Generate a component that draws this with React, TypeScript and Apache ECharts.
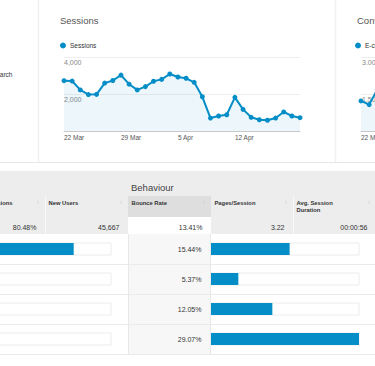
import React, { useEffect, useRef } from 'react';
import * as echarts from 'echarts';

const dates = [
  '22 Mar', '23 Mar', '24 Mar', '25 Mar', '26 Mar', '27 Mar', '28 Mar', '29 Mar', '30 Mar', '31 Mar',
  '1 Apr', '2 Apr', '3 Apr', '4 Apr', '5 Apr', '6 Apr', '7 Apr', '8 Apr', '9 Apr', '10 Apr',
  '11 Apr', '12 Apr', '13 Apr', '14 Apr', '15 Apr', '16 Apr', '17 Apr', '18 Apr', '19 Apr', '20 Apr',
];
const sessions = [
  2720, 2700, 2220, 1970, 1980, 2590, 2730, 3020, 2530, 2220,
  2400, 2690, 2790, 3080, 2920, 2850, 2630, 1850, 700, 810,
  880, 1820, 1170, 740, 610, 580, 700, 1030, 810, 720,
];
// only the first few points are visible at the right edge
const conversionRate = [1.22, 1.07, 1.68, 1.95];

const channelRows = ['Organic Search', 'Direct', 'Referral', 'Social'];
const headerLabels = ['% New Sessions', 'New Users', 'Bounce Rate', 'Pages/Session', 'Avg. Session\nDuration'];
const totals = ['80.48%', '45,667', '13.41%', '3.22', '00:00:56'];
const bounceRates = [15.44, 5.37, 12.05, 29.07];
const acquisitionShare = [74.8, 15.1, 6.3, 3.8];

const BLUE = '#058dc7';
const FONT = 'Arial, "Liberation Sans", sans-serif';

function buildOption() {
  const colLeft = [-38, 45, 128, 211, 293];
  const colRight = [45, 128, 211, 293, 376];
  const graphic: any[] = [];
  graphic.push(
    { type: 'rect', z: -20, shape: { x: 0, y: 171, width: 375, height: 63 }, style: { fill: '#ededed' } },
    { type: 'rect', z: -19, shape: { x: 128, y: 196, width: 83, height: 21 }, style: { fill: '#dedede' } },
    { type: 'rect', z: -19, shape: { x: 128, y: 217, width: 83, height: 17 }, style: { fill: '#ffffff' } },
    { type: 'rect', z: -19, shape: { x: 128, y: 234, width: 83, height: 120 }, style: { fill: '#f7f7f7' } },
    { type: 'line', z: -18, shape: { x1: 0, y1: 162.5, x2: 375, y2: 162.5 }, style: { stroke: '#e6e6e6', lineWidth: 1 } },
    { type: 'line', z: -18, shape: { x1: 38.5, y1: 0, x2: 38.5, y2: 162 }, style: { stroke: '#f0f0f0', lineWidth: 1.5 } },
    { type: 'line', z: -18, shape: { x1: 335.5, y1: 0, x2: 335.5, y2: 162 }, style: { stroke: '#f0f0f0', lineWidth: 1.5 } },
  );
  [264.5, 294.5, 324.5, 354.5].forEach((y) =>
    graphic.push({ type: 'line', z: -17, shape: { x1: 0, y1: y, x2: 375, y2: y }, style: { stroke: '#ebebeb', lineWidth: 1 } })
  );
  [128.5, 210.5].forEach((x) =>
    graphic.push({ type: 'line', z: -17, shape: { x1: x, y1: 234, x2: x, y2: 354 }, style: { stroke: '#e8e8e8', lineWidth: 1 } })
  );
  [45.5, 293.5].forEach((x) =>
    graphic.push({ type: 'line', z: -17, shape: { x1: x, y1: 196, x2: x, y2: 234 }, style: { stroke: '#f8f8f8', lineWidth: 1 } })
  );
  graphic.push(
    { type: 'text', z: 10, x: 12.5, y: 74, style: { text: 'Organic Search', fill: '#333', font: `6.5px ${FONT}`, align: 'right', verticalAlign: 'middle' } },
    { type: 'text', z: 10, x: 131, y: 187, style: { text: 'Behaviour', fill: '#444', font: `9.5px ${FONT}`, align: 'left', verticalAlign: 'middle' } },
  );
  headerLabels.forEach((h, i) => {
    const isFirst = i === 0;
    graphic.push({
      type: 'text', z: 10,
      x: isFirst ? 12.5 : colLeft[i] + 3.5,
      y: 199,
      style: {
        text: h, fill: '#333', font: `bold 5.8px ${FONT}`,
        align: isFirst ? 'right' : 'left', verticalAlign: 'top', lineHeight: 7,
      },
    });
    graphic.push({
      type: 'text', z: 10, x: colRight[i] - 7, y: 202,
      style: { text: '↕', fill: '#c4c4c4', font: `5px ${FONT}`, align: 'center', verticalAlign: 'middle' },
    });
    graphic.push({
      type: 'text', z: 10, x: colRight[i] - 8.5, y: 227,
      style: { text: totals[i], fill: '#333', font: `7px ${FONT}`, align: 'right', verticalAlign: 'middle' },
    });
  });

  const timeAxis = (gridIndex: number) => ({
    gridIndex, type: 'category', data: dates, boundaryGap: false,
    axisLine: { lineStyle: { color: '#c8c8c8' } }, axisTick: { show: false },
    axisLabel: { interval: (i: number) => i % 7 === 0 && i < 28, align: 'left', margin: 3, fontSize: 6.5, color: '#555' },
  });

  const valueLabel = (fmt: (v: number) => string) => ({
    inside: false, margin: 0, align: 'left', verticalAlign: 'top', padding: [2, 0, 0, 0],
    showMinLabel: false, showMaxLabel: true, hideOverlap: false,
    fontSize: 7, color: () => '#888888', textBorderWidth: 0, opacity: 1,
    formatter: (v: number) => fmt(v),
  });

  const option: any = {
    animation: false,
    textStyle: { fontFamily: FONT },
    title: [
      { text: 'Sessions', left: 60, top: 15, padding: 0, textStyle: { fontSize: 9.5, fontWeight: 'normal', color: '#555' } },
      { text: 'Conversions', left: 357, top: 15, padding: 0, textStyle: { fontSize: 9.5, fontWeight: 'normal', color: '#555' } },
    ],
    legend: [
      {
        data: ['Sessions'], left: 60, top: 42, padding: 0, icon: 'circle', itemWidth: 6, itemHeight: 6, itemGap: 4,
        textStyle: { fontSize: 6.5, color: '#333', padding: [0, 0, 0, -1] },
      },
      {
        data: ['E-commerce Conversion Rate'], left: 355, top: 42, padding: 0, icon: 'circle', itemWidth: 6, itemHeight: 6,
        textStyle: { fontSize: 6.5, color: '#333', padding: [0, 0, 0, -1] },
      },
    ],
    grid: [
      { left: 64, top: 57, width: 236, height: 74, outerBoundsMode: 'none', containLabel: false },
      { left: 361, top: 57, width: 236, height: 74, outerBoundsMode: 'none', containLabel: false },
      { left: -37, top: 234, width: 148, height: 120, outerBoundsMode: 'none', containLabel: false },
      { left: 211, top: 234, width: 148, height: 120, outerBoundsMode: 'none', containLabel: false },
    ],
    xAxis: [
      timeAxis(0),
      timeAxis(1),
      { gridIndex: 2, type: 'value', min: 0, max: 100, show: false },
      { gridIndex: 3, type: 'value', min: 0, max: Math.max(...bounceRates), show: false },
    ],
    yAxis: [
      {
        gridIndex: 0, type: 'value', min: 0, max: 4000, interval: 2000,
        axisLine: { show: false }, axisTick: { show: false },
        splitLine: { lineStyle: { color: '#eeeeee' } },
        axisLabel: valueLabel((v) => v.toLocaleString('en-US')),
      },
      {
        gridIndex: 1, type: 'value', min: 0, max: 3, interval: 1.5,
        axisLine: { show: false }, axisTick: { show: false },
        splitLine: { lineStyle: { color: '#eeeeee' } },
        axisLabel: { ...valueLabel((v) => v.toFixed(2) + '%'), padding: [2, 0, 0, 1] },
      },
      { gridIndex: 2, type: 'category', data: channelRows, inverse: true, show: false },
      {
        gridIndex: 3, type: 'category', data: channelRows, inverse: true,
        axisLine: { show: false }, axisTick: { show: false },
        axisLabel: { margin: 9.5, fontSize: 7, color: '#333', formatter: (_: string, i: number) => bounceRates[i].toFixed(2) + '%' },
      },
    ],
    series: [
      {
        name: 'Sessions', type: 'line', xAxisIndex: 0, yAxisIndex: 0, data: sessions,
        symbol: 'circle', symbolSize: 5, showAllSymbol: true,
        lineStyle: { color: BLUE, width: 2 }, itemStyle: { color: BLUE },
        areaStyle: { color: 'rgba(5,141,199,0.1)' },
      },
      {
        name: 'E-commerce Conversion Rate', type: 'line', xAxisIndex: 1, yAxisIndex: 1, data: conversionRate,
        symbol: 'circle', symbolSize: 5, showAllSymbol: true,
        lineStyle: { color: BLUE, width: 2 }, itemStyle: { color: BLUE },
        areaStyle: { color: 'rgba(5,141,199,0.1)' },
      },
      {
        name: 'share', type: 'bar', xAxisIndex: 2, yAxisIndex: 2, data: acquisitionShare, barWidth: 12,
        itemStyle: { color: BLUE }, showBackground: true,
        backgroundStyle: { color: '#ffffff', borderColor: '#ececec', borderWidth: 1 },
      },
      {
        name: 'Bounce Rate', type: 'bar', xAxisIndex: 3, yAxisIndex: 3, data: bounceRates, barWidth: 12,
        itemStyle: { color: BLUE }, showBackground: true,
        backgroundStyle: { color: '#ffffff', borderColor: '#ececec', borderWidth: 1 },
      },
    ],
    graphic,
  };
  return option;
}

export default function App() {
  const ref = useRef<HTMLDivElement>(null);
  useEffect(() => {
    const chart = echarts.init(ref.current!, null, { renderer: 'svg' });
    chart.setOption(buildOption());
    return () => chart.dispose();
  }, []);
  return (
    <div
      ref={ref}
      style={{ position: 'fixed', left: 0, top: 0, width: 375, height: 366, background: '#fff', overflow: 'hidden' }}
    />
  );
}
